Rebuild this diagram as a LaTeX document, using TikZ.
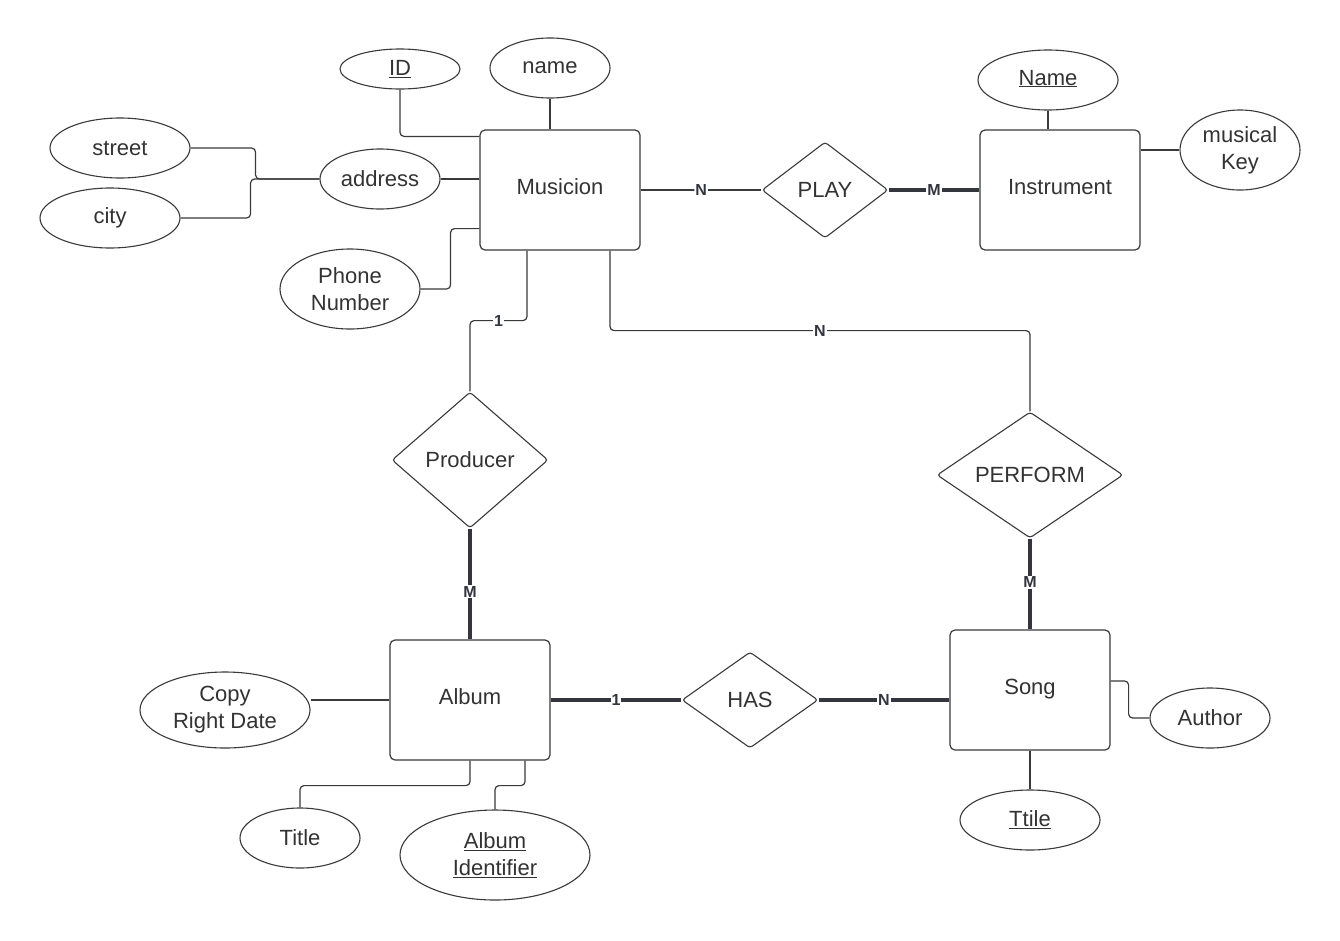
\documentclass[tikz,border=0pt]{standalone}
\usepackage{fontspec}
\setmainfont{Liberation Sans}
\usetikzlibrary{shapes.geometric,calc}
\definecolor{ln}{HTML}{3A3A3A}
\definecolor{thk}{HTML}{33353F}
\definecolor{txt}{HTML}{333333}
\begin{document}
\begin{tikzpicture}[x=1pt,y=-1pt,
 every node/.style={font=\fontsize{22}{27}\selectfont, text=txt},
 ent/.style={draw=ln, line width=1.2pt, rounded corners=5pt, minimum width=160pt, minimum height=120pt, inner sep=0pt, text height=16pt, text depth=8pt},
 att/.style={draw=ln, line width=1.1pt, ellipse, inner sep=0pt, align=center},
 rel/.style={draw=ln, line width=1.1pt, diamond, inner sep=0pt, rounded corners=3pt},
 con/.style={draw=ln, line width=1.2pt, rounded corners=4pt},
 heavy/.style={draw=thk, line width=4pt},
 card/.style={font=\bfseries\fontsize{16}{16}\selectfont, fill=white, inner sep=1pt, text=thk}
]
\useasboundingbox[fill=white] (0,0) rectangle (1340,940);

% entities
\node[ent] (mus) at (560,190) {Musicion};
\node[ent] (inst) at (1060,190) {Instrument};
\node[ent] (album) at (470,700) {Album};
\node[ent] (song) at (1030,690) {Song};

% relationships
\node[rel, minimum width=126pt, minimum height=96pt] (play) at (825,190) {PLAY};
\node[rel, minimum width=156pt, minimum height=136pt] (prod) at (470,460) {Producer};
\node[rel, minimum width=186pt, minimum height=126pt] (perf) at (1030,475) {PERFORM};
\node[rel, minimum width=136pt, minimum height=96pt] (has) at (750,700) {HAS};

% attributes
\node[att, minimum width=120pt, minimum height=40pt] (id) at (400,69) {\underline{ID}};
\node[att, minimum width=120pt, minimum height=60pt] (name) at (550,68) {name};
\node[att, minimum width=140pt, minimum height=60pt] (street) at (120,148) {street};
\node[att, minimum width=140pt, minimum height=60pt] (city) at (110,218) {city};
\node[att, minimum width=120pt, minimum height=60pt] (addr) at (380,179) {address};
\node[att, minimum width=140pt, minimum height=80pt] (phone) at (350,289) {Phone\\Number};
\node[att, minimum width=140pt, minimum height=60pt, text height=16pt, text depth=6pt] (iname) at (1048,80) {\underline{Name}};
\node[att, minimum width=120pt, minimum height=80pt] (key) at (1240,150) {musical\\Key};
\node[att, minimum width=170pt, minimum height=76pt] (copy) at (225,710) {Copy\\Right Date};
\node[att, minimum width=120pt, minimum height=60pt] (title) at (300,838) {Title};
\node[att, minimum width=190pt, minimum height=90pt] (aid) at (495,855) {\underline{Album}\\\underline{Identifier}};
\node[att, minimum width=120pt, minimum height=60pt] (author) at (1210,718) {Author};
\node[att, minimum width=140pt, minimum height=60pt] (ttile) at (1030,820) {\underline{Ttile}};

% attribute connectors
\draw[con] (id.south) |- ([yshift=-7pt]mus.north west);
\draw[con] (name.south) -- (name.south |- mus.north);
\draw[con] (addr.east) -- (addr.east -| mus.west);
\draw[con] (street.east) -- ++(65,0) |- (addr.west);
\draw[con] (city.east) -- ++(70,0) |- (addr.west);
\draw[con] (phone.east) -- ++(30,0) |- ([yshift=22pt]mus.south west);
\draw[con] (iname.south) -- (iname.south |- inst.north);
\draw[con] (key.west) -- (key.west -| inst.east);
\draw[con] (album.west) -- (album.west -| copy.east);
\draw[con] (album.south) -- ++(0,25) -| (title.north);
\draw[con] ([xshift=55pt]album.south) -- ++(0,25) -| (aid.north);
\draw[con] ([yshift=9pt]song.east) -- ++(18,0) |- (author.west);
\draw[con] (song.south) -- (ttile.north);

% relationship connectors
\draw[con] (mus.east) -- node[card]{N} (play.west);
\draw[heavy] (play.east) -- node[card]{M} (inst.west);
\draw[con] ([xshift=-33pt]mus.south) -- ++(0,70) -| node[pos=0.25, card]{1} (prod.north);
\draw[heavy] (prod.south) -- node[pos=0.57, card]{M} (album.north);
\draw[con] ([xshift=50pt]mus.south) -- ++(0,80) -| node[pos=0.25, card]{N} (perf.north);
\draw[heavy] (perf.south) -- node[pos=0.48, card]{M} (song.north);
\draw[heavy] (album.east) -- node[card]{1} (has.west);
\draw[heavy] (has.east) -- node[card]{N} (has.east -| song.west);
\end{tikzpicture}
\end{document}
